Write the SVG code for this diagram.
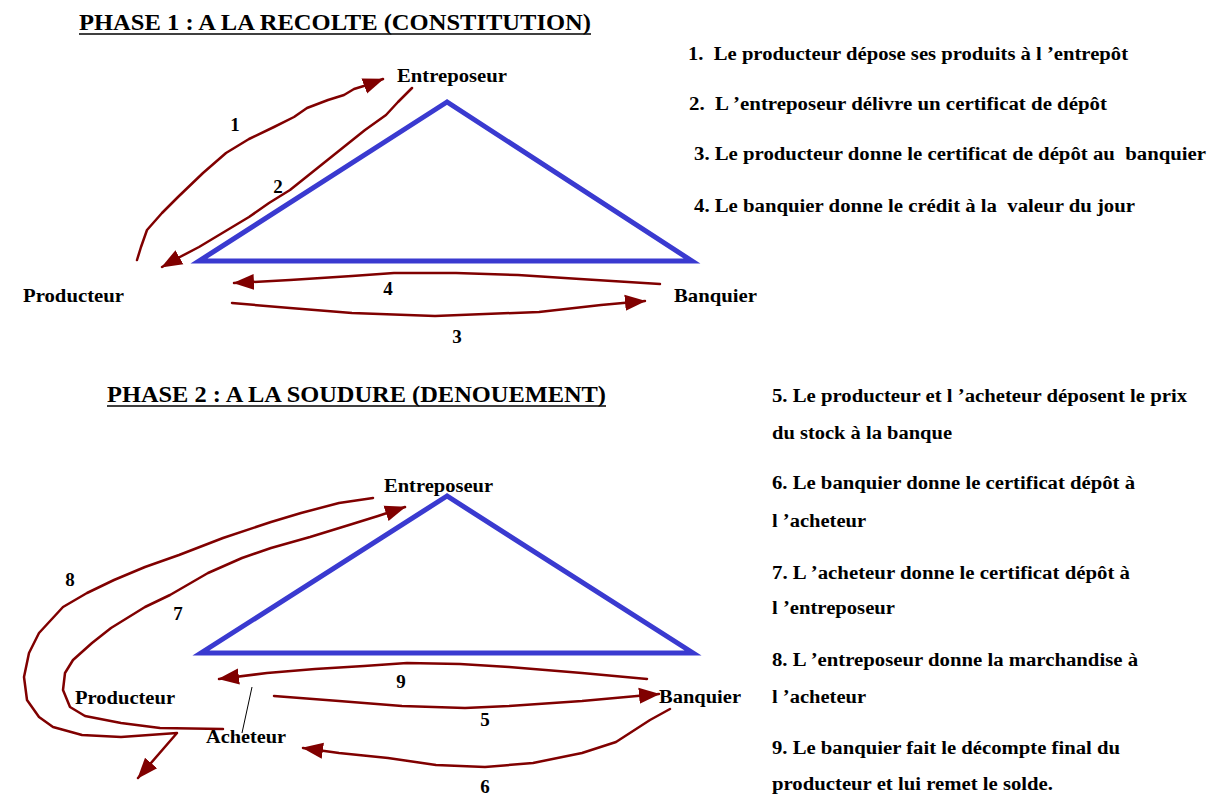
<svg xmlns="http://www.w3.org/2000/svg" width="1209" height="796" viewBox="0 0 1209 796">
<style>
text{font-family:"Liberation Serif","Times New Roman",serif;font-weight:bold;fill:#000;white-space:pre}
.title{font-size:23px}
.lbl{font-size:19px}
.num{font-size:19px}
.lst{font-size:18px}
.tri{fill:none;stroke:#3a3ad0;stroke-width:5;stroke-linejoin:miter}
.arr{fill:none;stroke:#800000;stroke-width:2.5;stroke-linejoin:round;stroke-linecap:round}
.ul{stroke:#000;stroke-width:1.5}
</style>
<defs>
<marker id="ah" markerUnits="userSpaceOnUse" markerWidth="22" markerHeight="18" viewBox="0 0 22 18" refX="20" refY="9" orient="auto">
<path d="M0,1 L21,9 L0,17 Z" fill="#800000"/>
</marker>
</defs>

<g id="title1"><text class="title" x="79" y="30" textLength="512" lengthAdjust="spacingAndGlyphs">PHASE 1 : A LA RECOLTE (CONSTITUTION)</text><line class="ul" x1="79" y1="34" x2="591" y2="34"/></g>
<g id="title2"><text class="title" x="107" y="402" textLength="499" lengthAdjust="spacingAndGlyphs">PHASE 2 : A LA SOUDURE (DENOUEMENT)</text><line class="ul" x1="107" y1="406" x2="606" y2="406"/></g>

<g id="triangle1"><polygon class="tri" points="447,102 199,261 692,261"/></g>
<g id="triangle2"><polygon class="tri" points="447,496 201,653 693,653"/></g>

<g id="entreposeur1"><text class="lbl" x="397" y="82" textLength="110" lengthAdjust="spacingAndGlyphs">Entreposeur</text></g>
<g id="producteur1"><text class="lbl" x="23" y="302" textLength="101" lengthAdjust="spacingAndGlyphs">Producteur</text></g>
<g id="banquier1"><text class="lbl" x="674" y="302" textLength="83" lengthAdjust="spacingAndGlyphs">Banquier</text></g>

<g id="entreposeur2"><text class="lbl" x="384" y="492" textLength="109" lengthAdjust="spacingAndGlyphs">Entreposeur</text></g>
<g id="producteur2"><text class="lbl" x="75" y="704" textLength="100" lengthAdjust="spacingAndGlyphs">Producteur</text></g>
<g id="banquier2"><text class="lbl" x="659" y="703" textLength="82" lengthAdjust="spacingAndGlyphs">Banquier</text></g>
<g id="acheteur"><text class="lbl" x="206" y="743" textLength="80" lengthAdjust="spacingAndGlyphs">Acheteur</text></g>

<g id="connectors">
<polyline class="arr" marker-end="url(#ah)" points="137,260 141,247 147,230 162,213 178,197 203,173 226,153 249,139 274,127 294,117 307,108 328,100 344,95 354,89 367,85 383,79"/>
<polyline class="arr" marker-end="url(#ah)" points="412,88 398,102 386,115 365,130 340,150 315,170 290,190 269,203 249,217 224,232 199,247 178,258 162,267"/>
<polyline class="arr" marker-end="url(#ah)" points="660,284 580,279 518,275 456,273 394,273 352,276 290,280 234,283"/>
<polyline class="arr" marker-end="url(#ah)" points="232,303 290,308 352,313 435,316 539,312 601,305 645,301"/>

<polyline class="arr" marker-end="url(#ah)" points="647,679 582,673 509,667 460,664 407,663 364,666 315,669 267,673 219,679"/>
<polyline class="arr" marker-end="url(#ah)" points="274,696 339,701 402,706 465,708 509,706 582,701 659,694"/>
<polyline class="arr" marker-end="url(#ah)" points="670,709 650,720 616,742 582,753 533,763 485,767 436,765 388,758 339,753 303,748"/>
<polyline class="arr" marker-end="url(#ah)" points="223,729 160,728 121,723 85,716 70,707 63,690 65,673 73,660 92,643 111,628 145,607 170,595 208,573 242,558 271,548 310,537 349,525 378,516 405,507"/>
<polyline class="arr" marker-end="url(#ah)" points="373,498 339,503 301,513 271,522 223,538 179,555 145,567 114,580 87,593 63,607 39,633 29,653 24,677 27,700 39,717 53,727 82,735 121,737 177,733 138,778"/>
<line x1="252" y1="687" x2="242" y2="733" stroke="#000" stroke-width="1"/>
</g>

<g id="numbers">
<text class="num" x="235" y="131" text-anchor="middle">1</text>
<text class="num" x="278" y="193" text-anchor="middle">2</text>
<text class="num" x="457" y="343" text-anchor="middle">3</text>
<text class="num" x="388" y="295" text-anchor="middle">4</text>
<text class="num" x="485" y="726" text-anchor="middle">5</text>
<text class="num" x="485" y="793" text-anchor="middle">6</text>
<text class="num" x="178" y="620" text-anchor="middle">7</text>
<text class="num" x="70" y="586" text-anchor="middle">8</text>
<text class="num" x="401" y="688" text-anchor="middle">9</text>
</g>

<g id="legend1">
<text class="lst" x="688" y="60" textLength="440" lengthAdjust="spacingAndGlyphs">1.  Le producteur dépose ses produits à l ’entrepôt</text>
<text class="lst" x="689" y="110" textLength="418" lengthAdjust="spacingAndGlyphs">2.  L ’entreposeur délivre un certificat de dépôt</text>
<text class="lst" x="694" y="160" textLength="512" lengthAdjust="spacingAndGlyphs">3. Le producteur donne le certificat de dépôt au  banquier</text>
<text class="lst" x="694" y="212" textLength="441" lengthAdjust="spacingAndGlyphs">4. Le banquier donne le crédit à la  valeur du jour</text>
</g>

<g id="legend2">
<text class="lst" x="772" y="402" textLength="415" lengthAdjust="spacingAndGlyphs">5. Le producteur et l ’acheteur déposent le prix</text>
<text class="lst" x="772" y="439" textLength="180" lengthAdjust="spacingAndGlyphs">du stock à la banque</text>
<text class="lst" x="772" y="489" textLength="363" lengthAdjust="spacingAndGlyphs">6. Le banquier donne le certificat dépôt à</text>
<text class="lst" x="772" y="527" textLength="94" lengthAdjust="spacingAndGlyphs">l ’acheteur</text>
<text class="lst" x="772" y="579" textLength="358" lengthAdjust="spacingAndGlyphs">7. L ’acheteur donne le certificat dépôt à</text>
<text class="lst" x="772" y="614" textLength="123" lengthAdjust="spacingAndGlyphs">l ’entreposeur</text>
<text class="lst" x="772" y="666" textLength="366" lengthAdjust="spacingAndGlyphs">8. L ’entreposeur donne la marchandise à</text>
<text class="lst" x="772" y="703" textLength="94" lengthAdjust="spacingAndGlyphs">l ’acheteur</text>
<text class="lst" x="772" y="754" textLength="348" lengthAdjust="spacingAndGlyphs">9. Le banquier fait le décompte final du</text>
<text class="lst" x="772" y="790" textLength="281" lengthAdjust="spacingAndGlyphs">producteur et lui remet le solde.</text>
</g>
</svg>
